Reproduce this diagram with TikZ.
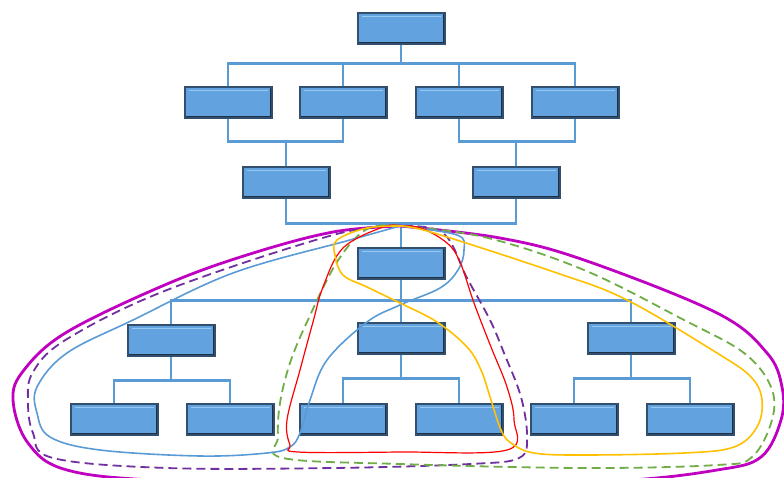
\documentclass[tikz,border=0pt]{standalone}
\usepackage{tikz}
\definecolor{boxfill}{RGB}{98,162,222}
\definecolor{boxedge}{RGB}{50,80,110}
\definecolor{boxlight}{RGB}{150,200,242}
\definecolor{boxshade}{RGB}{30,48,70}
\definecolor{linkblue}{RGB}{91,155,213}
\definecolor{magloop}{RGB}{192,0,192}
\definecolor{purloop}{RGB}{112,48,160}
\definecolor{grnloop}{RGB}{112,173,71}
\definecolor{yelloop}{RGB}{255,192,0}
\definecolor{redloop}{RGB}{255,0,0}
\tikzset{
	x=1pt, y=-1pt, % pixel like units, y grows downwards
	orgbox/.style={rectangle, draw=boxedge, fill=boxfill, line width=2pt, minimum width=87pt, minimum height=31pt, inner sep=0pt,
		path picture={
			\draw[boxlight, line width=1.8pt] ([xshift=4pt,yshift=-4pt]path picture bounding box.north west) -- ([xshift=-4pt,yshift=-4pt]path picture bounding box.north east);
			\draw[boxshade, line width=3.5pt] (path picture bounding box.south west) -- (path picture bounding box.south east) -- (path picture bounding box.north east);
		}}, % the bevelled boxes
	link/.style={draw=linkblue, line width=2.4pt}, % tree connectors
}

\begin{document}
\begin{tikzpicture}[
	group/.style={line width=1.6pt, line join=round},
	dashgroup/.style={line width=1.8pt, dash pattern=on 9pt off 5pt},
	]
	\useasboundingbox (0,0) rectangle (784,477);
	%Nodes
	\node[orgbox] (top) at (401,28) {};

	\node[orgbox] (ba) at (228,102) {};
	\node[orgbox] (bb) at (343,102) {};
	\node[orgbox] (bc) at (459,102) {};
	\node[orgbox] (bd) at (575,102) {};

	\node[orgbox] (ca) at (286,182) {};
	\node[orgbox] (cb) at (516,182) {};

	\node[orgbox] (d) at (401,263) {};

	\node[orgbox] (ea) at (171,340) {};
	\node[orgbox] (eb) at (401,338) {};
	\node[orgbox] (ec) at (631,338) {};

	\node[orgbox] (fa) at (114,419) {};
	\node[orgbox] (fb) at (230,419) {};
	\node[orgbox] (fc) at (343,419) {};
	\node[orgbox] (fd) at (459,419) {};
	\node[orgbox] (fe) at (574,419) {};
	\node[orgbox] (ff) at (690,419) {};

	%Lines
	\foreach \c in {ba,bb,bc,bd}
		\draw[link] (top.south) -- ++(0,19) -| (\c.north);
	\foreach \p/\c in {ba/ca,bb/ca,bc/cb,bd/cb}
		\draw[link] (\p.south) -- ++(0,23) -| (\c.north);
	\foreach \p in {ca,cb}
		\draw[link] (\p.south) -- ++(0,25) -| (d.north);
	\foreach \c in {ea,eb,ec}
		\draw[link] (d.south) -- ++(0,21) -| (\c.north);
	\foreach \p/\c in {ea/fa,ea/fb,eb/fc,eb/fd,ec/fe,ec/ff}
		\draw[link] (\p.south) -- ++(0,24) -| (\c.north);

	%Groups
	\coordinate (apex) at (400,226);
	% outer loop
	\draw[magloop, line width=2.8pt] plot[smooth, tension=0.6] coordinates {(apex) (333,232) (250,254) (167,284) (67,332) (24,370) (13,400) (28,443) (67,470) (167,481) (400,490) (617,481) (717,470) (761,457) (781,420) (782,387) (767,353) (717,313) (584,260) (500,238) (apex)};
	% left and middle
	\draw[purloop, dashgroup] plot[smooth, tension=0.6] coordinates {(apex) (333,235) (167,290) (67,339) (33,372) (28,402) (33,433) (53,458) (167,468) (333,468) (470,464) (519,458) (527,437) (521,397) (504,353) (490,320) (467,278) (443,233) (apex)};
	% right and middle
	\draw[grnloop, dashgroup] plot[smooth, tension=0.6] coordinates {(apex) (484,237) (584,270) (684,320) (744,353) (771,387) (772,420) (752,457) (717,465) (584,468) (400,464) (283,458) (278,437) (280,403) (290,363) (307,322) (337,262) (367,229) (apex)};
	% left, crossing through the middle
	\draw[linkblue, group] plot[smooth, tension=0.6] coordinates {(apex) (350,240) (233,273) (133,320) (67,353) (37,387) (37,413) (50,437) (100,450) (200,456) (267,453) (290,447) (300,433) (310,400) (327,360) (367,322) (400,305) (440,288) (458,270) (464,250) (457,235) (apex)};
	% middle column
	\draw[redloop, line width=1.2pt] plot[smooth, tension=0.6] coordinates {(apex) (383,227) (343,248) (323,287) (313,322) (300,370) (287,420) (290,445) (298,452) (400,452) (507,450) (514,420) (507,387) (491,347) (474,303) (460,262) (447,243) (421,228) (apex)};
	% right, crossing through the middle
	\draw[yelloop, group] plot[smooth, tension=0.6] coordinates {(apex) (367,228) (337,240) (335,255) (343,275) (367,287) (400,303) (437,322) (467,347) (481,370) (491,400) (501,430) (511,443) (534,453) (584,455) (684,453) (734,447) (757,427) (762,400) (751,377) (717,353) (627,300) (557,273) (434,233) (apex)};
\end{tikzpicture}
\end{document}
